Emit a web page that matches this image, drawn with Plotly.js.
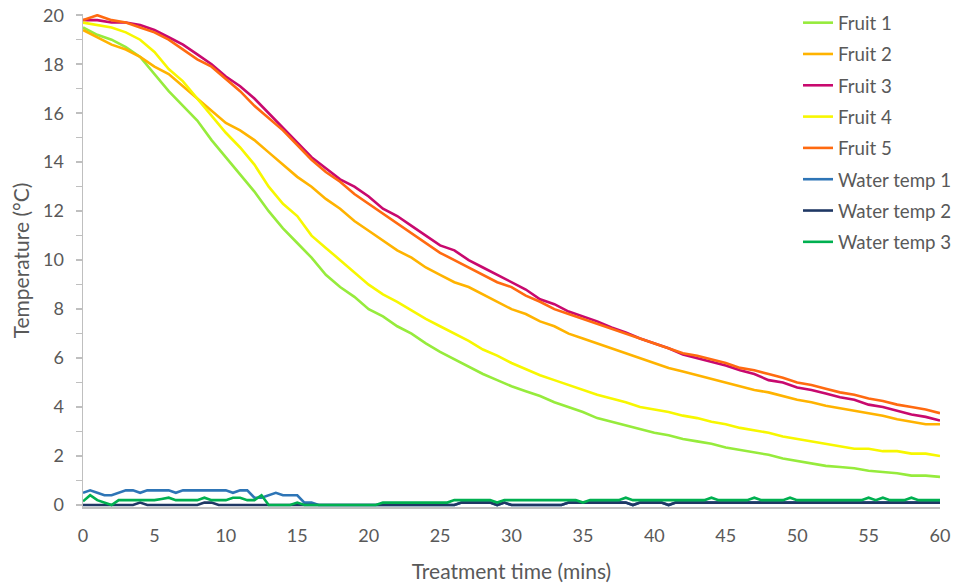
<!DOCTYPE html>
<html>
<head>
<meta charset="utf-8">
<script src="https://cdn.plot.ly/plotly-3.0.1.min.js"></script>
<style>html,body{margin:0;padding:0;background:#fff;}#chart{width:960px;height:585px;}</style>
</head>
<body>
<div id="chart"></div>
<script>
// Fruit core temperatures, read every minute
const fruitTime = [0,1,2,3,4,5,6,7,8,9,10,11,12,13,14,15,16,17,18,19,20,21,22,23,24,25,26,27,28,29,30,31,32,33,34,35,36,37,38,39,40,41,42,43,44,45,46,47,48,49,50,51,52,53,54,55,56,57,58,59,60];
const fruit1 = [19.5,19.2,19.0,18.7,18.3,17.6,16.9,16.3,15.7,14.9,14.2,13.5,12.8,12.0,11.3,10.7,10.1,9.4,8.9,8.5,8.0,7.7,7.3,7.0,6.6,6.25,5.95,5.65,5.35,5.1,4.85,4.65,4.45,4.2,4.0,3.8,3.55,3.4,3.25,3.1,2.95,2.85,2.7,2.6,2.5,2.35,2.25,2.15,2.05,1.9,1.8,1.7,1.6,1.55,1.5,1.4,1.35,1.3,1.2,1.2,1.15];
const fruit2 = [19.4,19.1,18.8,18.6,18.3,17.9,17.6,17.1,16.6,16.1,15.6,15.3,14.9,14.4,13.9,13.4,13.0,12.5,12.1,11.6,11.2,10.8,10.4,10.1,9.7,9.4,9.1,8.9,8.6,8.3,8.0,7.8,7.5,7.3,7.0,6.8,6.6,6.4,6.2,6.0,5.8,5.6,5.45,5.3,5.15,5.0,4.85,4.7,4.6,4.45,4.3,4.2,4.05,3.95,3.85,3.75,3.65,3.5,3.4,3.3,3.3];
const fruit3 = [19.8,19.8,19.7,19.7,19.6,19.4,19.1,18.8,18.4,18.0,17.5,17.1,16.6,16.0,15.4,14.8,14.2,13.75,13.3,13.0,12.6,12.1,11.8,11.4,11.0,10.6,10.4,10.0,9.7,9.4,9.1,8.8,8.4,8.2,7.9,7.7,7.5,7.25,7.05,6.8,6.6,6.4,6.15,6.0,5.85,5.7,5.5,5.35,5.1,5.0,4.8,4.7,4.55,4.4,4.3,4.1,4.0,3.85,3.7,3.6,3.45];
const fruit4 = [19.7,19.6,19.5,19.3,19.0,18.5,17.8,17.3,16.6,15.9,15.2,14.6,13.9,13.0,12.3,11.8,11.0,10.5,10.0,9.5,9.0,8.6,8.3,7.95,7.6,7.3,7.0,6.7,6.35,6.1,5.8,5.55,5.3,5.1,4.9,4.7,4.5,4.35,4.2,4.0,3.9,3.8,3.65,3.55,3.4,3.3,3.15,3.05,2.95,2.8,2.7,2.6,2.5,2.4,2.3,2.3,2.2,2.2,2.1,2.1,2.0];
const fruit5 = [19.8,20.0,19.8,19.7,19.5,19.3,19.0,18.6,18.2,17.9,17.4,16.9,16.3,15.8,15.3,14.7,14.1,13.6,13.2,12.7,12.3,11.9,11.5,11.1,10.7,10.3,10.0,9.7,9.4,9.1,8.9,8.55,8.3,8.0,7.8,7.6,7.4,7.2,7.0,6.8,6.6,6.4,6.2,6.1,5.95,5.8,5.6,5.5,5.35,5.2,5.0,4.9,4.75,4.6,4.5,4.35,4.25,4.1,4.0,3.9,3.75];

// Water temperatures, read every half minute
const waterTime = [0,0.5,1,1.5,2,2.5,3,3.5,4,4.5,5,5.5,6,6.5,7,7.5,8,8.5,9,9.5,10,10.5,11,11.5,12,12.5,13,13.5,14,14.5,15,15.5,16,16.5,17,17.5,18,18.5,19,19.5,20,20.5,21,21.5,22,22.5,23,23.5,24,24.5,25,25.5,26,26.5,27,27.5,28,28.5,29,29.5,30,30.5,31,31.5,32,32.5,33,33.5,34,34.5,35,35.5,36,36.5,37,37.5,38,38.5,39,39.5,40,40.5,41,41.5,42,42.5,43,43.5,44,44.5,45,45.5,46,46.5,47,47.5,48,48.5,49,49.5,50,50.5,51,51.5,52,52.5,53,53.5,54,54.5,55,55.5,56,56.5,57,57.5,58,58.5,59,59.5,60];
const water1 = [0.5,0.6,0.5,0.4,0.4,0.5,0.6,0.6,0.5,0.6,0.6,0.6,0.6,0.5,0.6,0.6,0.6,0.6,0.6,0.6,0.6,0.5,0.6,0.6,0.3,0.3,0.4,0.5,0.4,0.4,0.4,0.1,0.1,0,0,0,0,0,0,0,0,0,0,0,0,0,0,0,0,0,0,0,0,0.1,0.1,0.1,0.1,0.1,0,0.1,0,0,0,0,0,0,0,0,0.1,0.1,0.1,0.1,0.1,0.1,0.1,0.1,0.1,0,0.1,0.1,0.1,0.1,0,0.1,0.1,0.1,0.1,0.1,0.1,0.1,0.1,0.1,0.1,0.1,0.1,0.1,0.1,0.1,0.1,0.1,0.1,0.1,0.1,0.1,0.1,0.1,0.1,0.1,0.1,0.1,0.1,0.1,0.1,0.1,0.1,0.1,0.1,0.1,0.1,0.1,0.1];
const water2 = [0,0,0,0,0,0,0,0,0.1,0,0,0,0,0,0,0,0,0.1,0.1,0,0,0,0,0,0,0,0,0,0,0,0,0,0,0,0,0,0,0,0,0,0,0,0,0,0,0,0,0,0,0,0,0,0,0.1,0.1,0.1,0.1,0.1,0,0.1,0,0,0,0,0,0,0,0,0.1,0.1,0.1,0.1,0.1,0.1,0.1,0.1,0.1,0,0.1,0.1,0.1,0.1,0,0.1,0.1,0.1,0.1,0.1,0.1,0.1,0.1,0.1,0.1,0.1,0.1,0.1,0.1,0.1,0.1,0.1,0.1,0.1,0.1,0.1,0.1,0.1,0.1,0.1,0.1,0.1,0.1,0.1,0.1,0.1,0.1,0.1,0.1,0.1,0.1,0.1,0.1];
const water3 = [0.15,0.4,0.2,0.1,0,0.2,0.2,0.2,0.2,0.2,0.2,0.25,0.3,0.2,0.2,0.2,0.2,0.3,0.2,0.2,0.2,0.3,0.3,0.2,0.2,0.4,0,0,0,0,0.1,0,0,0,0,0,0,0,0,0,0,0,0.1,0.1,0.1,0.1,0.1,0.1,0.1,0.1,0.1,0.1,0.2,0.2,0.2,0.2,0.2,0.2,0.1,0.2,0.2,0.2,0.2,0.2,0.2,0.2,0.2,0.2,0.2,0.2,0.1,0.2,0.2,0.2,0.2,0.2,0.3,0.2,0.2,0.2,0.2,0.2,0.2,0.2,0.2,0.2,0.2,0.2,0.3,0.2,0.2,0.2,0.2,0.2,0.3,0.2,0.2,0.2,0.2,0.3,0.2,0.2,0.2,0.2,0.2,0.2,0.2,0.2,0.2,0.2,0.3,0.2,0.3,0.2,0.2,0.2,0.3,0.2,0.2,0.2,0.2];

const seriesNames = ['Fruit 1','Fruit 2','Fruit 3','Fruit 4','Fruit 5','Water temp 1','Water temp 2','Water temp 3'];
const seriesColors = ['#96EB3C','#FFB300','#C8096E','#F7F700','#FF6A10','#2E75B6','#1F3864','#00B050'];
const xTicks = [0,5,10,15,20,25,30,35,40,45,50,55,60];
const yTicks = [0,2,4,6,8,10,12,14,16,18,20];
const yMinorTicks = [1,3,5,7,9,11,13,15,17,19];

const fruitData = [fruit1, fruit2, fruit3, fruit4, fruit5];
const waterData = [water1, water2, water3];

const traces = [];
fruitData.forEach((ys, i) => {
  traces.push({x: fruitTime, y: ys, type: 'scatter', mode: 'lines', name: seriesNames[i],
    legendgroup: 'g' + i, line: {color: seriesColors[i], width: 2.6}});
});
waterData.forEach((ys, j) => {
  const i = j + 5;
  traces.push({x: waterTime, y: ys, type: 'scatter', mode: 'lines', name: seriesNames[i],
    legendgroup: 'g' + i, line: {color: seriesColors[i], width: 2.6}});
});

const fontFam = 'Lato, "Open Sans", sans-serif';
const layout = {
  width: 960, height: 585,
  margin: {l: 83, r: 0, t: 0, b: 78},
  paper_bgcolor: '#ffffff', plot_bgcolor: '#ffffff',
  font: {family: fontFam, color: '#595959', size: 18},
  showlegend: true,
  legend: {x: 0.8153, y: 0.9921, xanchor: 'left', yanchor: 'top',
    traceorder: 'grouped', tracegroupgap: 4, font: {family: fontFam, size: 18.7, color: '#595959'},
    bgcolor: 'rgba(0,0,0,0)'},
  xaxis: {range: [0, 60], domain: [0, 0.97719], tickvals: xTicks, automargin: false,
    showgrid: false, zeroline: false, showline: true, linecolor: '#BFBFBF', linewidth: 1.5,
    ticks: '', ticklabelstandoff: 12, tickfont: {size: 18, color: '#595959'},
    title: {text: 'Treatment time (mins)', font: {size: 21, color: '#595959'}, standoff: 19}},
  yaxis: {range: [-0.08, 20.05], domain: [0, 0.97239], tickvals: yTicks, automargin: false,
    showgrid: false, zeroline: false, showline: true, linecolor: '#BFBFBF', linewidth: 1.5,
    ticks: 'outside', ticklen: 6, tickcolor: '#BFBFBF', tickwidth: 1.5, ticklabelstandoff: 8,
    minor: {tickvals: yMinorTicks, ticks: 'outside', ticklen: 6, tickcolor: '#BFBFBF', tickwidth: 1.5},
    tickfont: {size: 18, color: '#595959'},
    title: {text: 'Temperature (°C)', font: {size: 21, color: '#595959'}, standoff: 7}}
};

Plotly.newPlot('chart', traces, layout, {displayModeBar: false, staticPlot: true});
</script>
</body>
</html>
